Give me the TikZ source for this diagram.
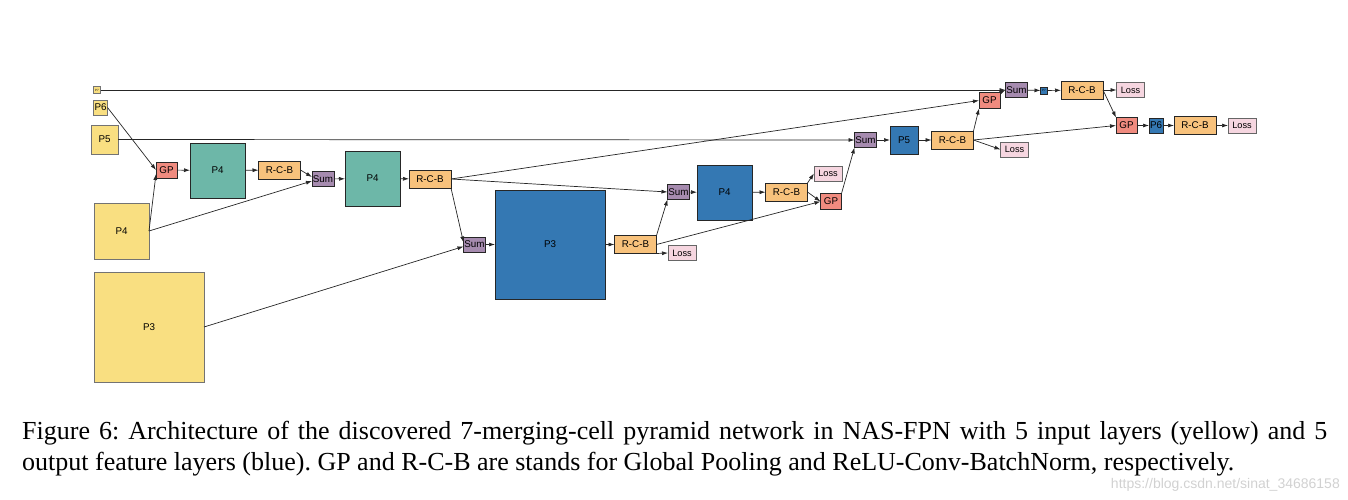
\documentclass[tikz,border=0pt]{standalone}
\usepackage{fontspec}
\setmainfont{Liberation Serif}
\setsansfont{Liberation Sans}
\usetikzlibrary{arrows.meta,calc}
\definecolor{cYel}{HTML}{F9DF81}
\definecolor{cTeal}{HTML}{6DB7A8}
\definecolor{cBlue}{HTML}{3478B3}
\definecolor{cOra}{HTML}{F8C27C}
\definecolor{cPur}{HTML}{A68BAF}
\definecolor{cGP}{HTML}{F08B7F}
\definecolor{cLoss}{HTML}{F6D6E0}
\tikzset{
  bx/.style={draw=black!85, line width=0.9pt, inner sep=0pt, outer sep=0pt, font=\sffamily\fontsize{9.8}{9.8}\selectfont},
  yel/.style={bx, fill=cYel, draw=black!55},
  teal/.style={bx, fill=cTeal},
  blu/.style={bx, fill=cBlue},
  rcb/.style={bx, fill=cOra, minimum width=42, minimum height=18},
  sumb/.style={bx, fill=cPur, minimum width=22, minimum height=15},
  gpb/.style={bx, fill=cGP, minimum width=21, minimum height=16},
  lossb/.style={bx, fill=cLoss, draw=black!60, minimum width=28, minimum height=15, font=\sffamily\fontsize{9.2}{9.2}\selectfont},
  con/.style={draw=black!85, line width=0.7pt, -{Latex[length=6pt,width=4pt]}},
  pl/.style={draw=black!85, line width=0.7pt}
}
\begin{document}
\begin{tikzpicture}[x=1pt,y=-1pt]
\useasboundingbox (0,0) rectangle (1348,500);
% inputs
\node[yel, minimum width=7, minimum height=7, font=\sffamily\fontsize{3}{3}\selectfont] (p7) at (97,90) {P7};
\node[yel, minimum width=14, minimum height=15] (p6) at (100.5,107.5) {P6};
\node[yel, minimum width=27, minimum height=29] (p5) at (104.5,139.5) {P5};
\node[yel, minimum width=55, minimum height=56] (p4in) at (121.5,231) {P4};
\node[yel, minimum width=110, minimum height=110] (p3in) at (149,327) {P3};
% cell 1
\node[gpb] (gp1) at (166.5,170) {GP};
\node[teal, minimum width=55, minimum height=55] (p4a) at (217.5,170.5) {P4};
\node[rcb] (rcb1) at (279.5,170) {R-C-B};
% cell 2
\node[sumb] (sum2) at (323,179) {Sum};
\node[teal, minimum width=55, minimum height=55] (p4b) at (372.5,178.5) {P4};
\node[rcb] (rcb2) at (430,179) {R-C-B};
% cell 3
\node[sumb] (sum3) at (474.5,244.5) {Sum};
\node[blu, minimum width=110, minimum height=109] (p3o) at (550,244.5) {P3};
\node[rcb] (rcb3) at (635.5,244.5) {R-C-B};
\node[lossb] (loss1) at (682,253) {Loss};
% cell 4
\node[sumb] (sum4) at (678.5,192) {Sum};
\node[blu, minimum width=55, minimum height=55] (p4o) at (724.5,192.5) {P4};
\node[rcb] (rcb4) at (786.5,192) {R-C-B};
\node[lossb] (loss2) at (828,173.5) {Loss};
\node[gpb] (gp3) at (831,201.5) {GP};
% cell 5
\node[sumb] (sum5) at (865.5,140) {Sum};
\node[blu, minimum width=28, minimum height=28] (p5o) at (904,140) {P5};
\node[rcb] (rcb5) at (952.5,140) {R-C-B};
\node[lossb] (loss3) at (1014.5,149.5) {Loss};
% cell 6
\node[gpb] (gp2) at (989.5,100.5) {GP};
\node[sumb] (sum6) at (1016.5,90) {Sum};
\node[blu, minimum width=7, minimum height=7, font=\sffamily\fontsize{3}{3}\selectfont] (p7o) at (1044,90.5) {P7};
\node[rcb] (rcb6) at (1082,90) {R-C-B};
\node[lossb] (loss4) at (1130.5,90) {Loss};
% cell 7
\node[gpb] (gp4) at (1126.5,125.5) {GP};
\node[blu, minimum width=14, minimum height=15] (p6o) at (1156,125.5) {P6};
\node[rcb] (rcb7) at (1195,125.5) {R-C-B};
\node[lossb] (loss5) at (1242,125.5) {Loss};
% connectors
\draw[con] (p7) -- (sum6.west);
\draw[con] (p6.east) -- (gp1.west);
\draw[con] (p4in.east) -- ($(gp1.west)+(0,4)$);
\draw[con] (p5) -- (sum5.west);
\draw[con] (gp1) -- (p4a);
\draw[con] (p4a) -- (rcb1);
\draw[con] (rcb1.east) -- ($(sum2.west)+(0,-2)$);
\draw[con] (p4in.east) -- ($(sum2.west)+(0,2)$);
\draw[con] (sum2) -- (p4b);
\draw[con] (p4b) -- (rcb2);
\draw[con] (rcb2.east) -- (gp2.west);
\draw[con] (rcb2.east) -- (sum4.west);
\draw[con] (rcb2.south east) -- ($(sum3.west)+(0,-2)$);
\draw[con] (p3in.east) -- ($(sum3.west)+(0,2)$);
\draw[con] (sum3) -- (p3o);
\draw[con] (p3o) -- (rcb3);
\draw[con] (rcb3.south east) -- (loss1.west);
\draw[con] (rcb3.north east) -- (sum4.south west);
\draw[con] (rcb3.east) -- (gp3.west);
\draw[con] (sum4) -- (p4o);
\draw[con] (p4o) -- (rcb4);
\draw[con] (rcb4.north east) -- (loss2.west);
\draw[con] (rcb4.east) -- (gp3.west);
\draw[con] (gp3.north east) -- (sum5.south west);
\draw[con] (sum5) -- (p5o);
\draw[con] (p5o) -- (rcb5);
\draw[con] (rcb5.east) -- (loss3.west);
\draw[con] (rcb5.north east) -- (gp2.south west);
\draw[con] (rcb5.east) -- (gp4.west);
\draw[con] (gp2.north east) -- (sum6.west);
\draw[con] (sum6) -- (p7o);
\draw[con] (p7o) -- (rcb6);
\draw[con] (rcb6) -- (loss4);
\draw[con] (rcb6.east) -- (gp4.north west);
\draw[con] (gp4) -- (p6o);
\draw[con] (p6o) -- (rcb7);
\draw[con] (rcb7) -- (loss5);
% caption
\node[anchor=north west, inner sep=0pt, text width=1305pt, align=justify, font=\frenchspacing\fontsize{26}{30.5}\selectfont] (cap) at (22,421)
{Figure 6: Architecture of the discovered 7-merging-cell pyramid network in NAS-FPN with 5 input layers (yellow) and 5\linebreak output feature layers (blue). GP and R-C-B are stands for Global Pooling and ReLU-Conv-BatchNorm, respectively.};
\node[anchor=north east, inner sep=0pt, text=black!18, font=\sffamily\fontsize{14}{14}\selectfont] (wm) at (1340,478) {https://blog.csdn.net/sinat\_34686158};
\end{tikzpicture}
\end{document}
